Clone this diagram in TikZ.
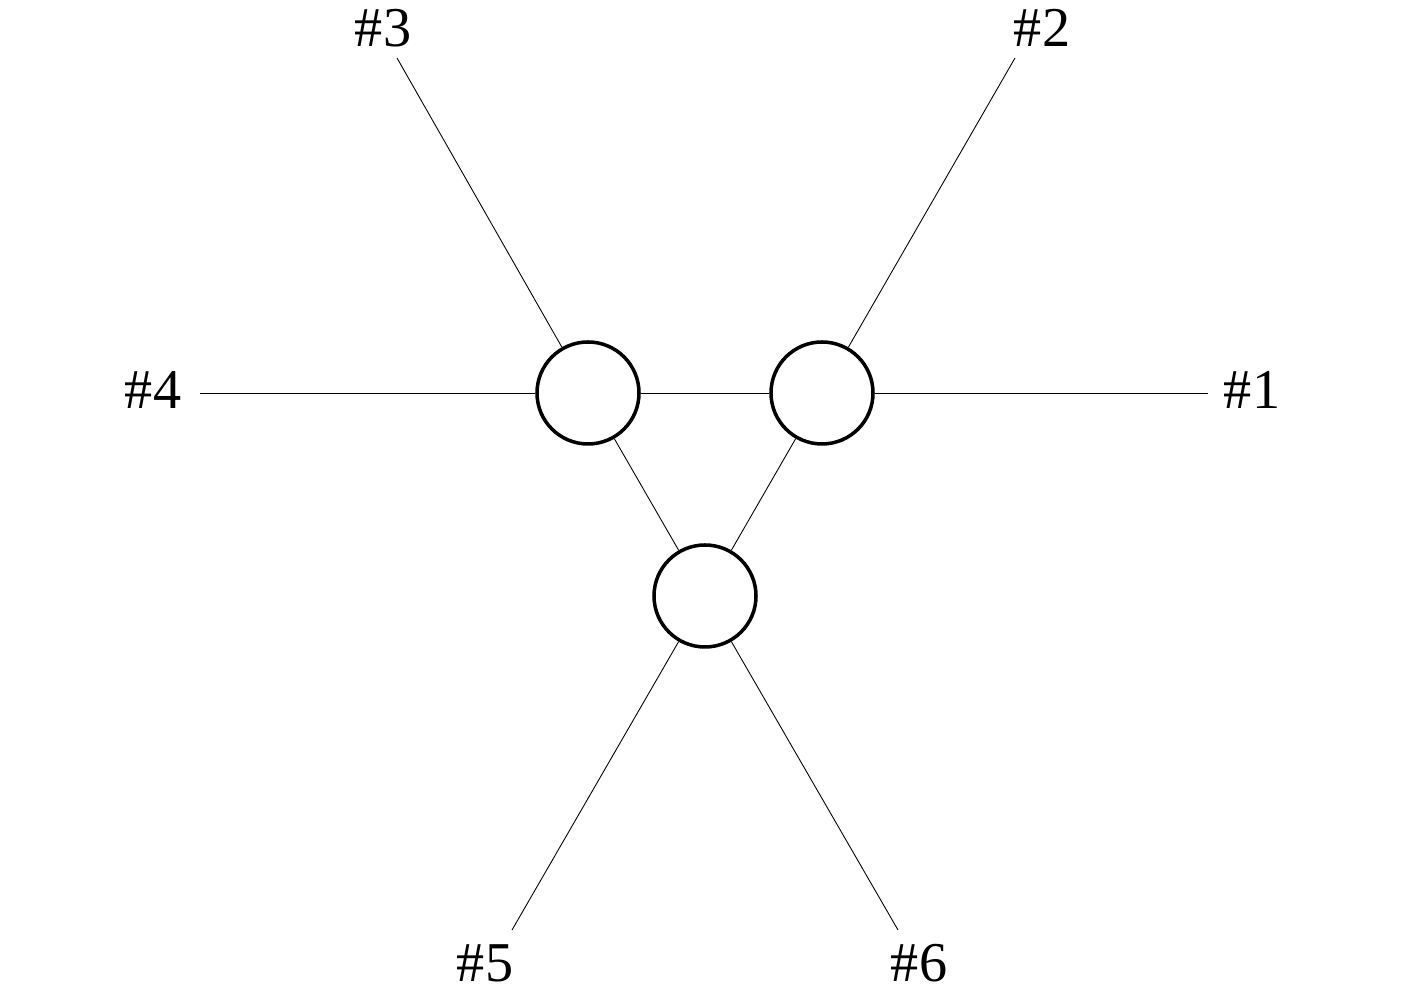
\documentclass[tikz,border=0pt]{standalone}
\usepackage{fontspec}
\setmainfont{Liberation Serif}
\begin{document}
\begin{tikzpicture}[
  hub/.style={circle,draw,line width=2pt,minimum size=2.04cm,inner sep=0pt,fill=white},
  wire/.style={line width=0.5pt},
  lbl/.style={font=\fontsize{32}{38}\selectfont,inner sep=0pt}
]
\useasboundingbox (0,0) rectangle (28.34,19.84);
\node[hub] (L) at (11.76,11.98) {};
\node[hub] (R) at (16.44,11.98) {};
\node[hub] (B) at (14.10,7.92) {};
\coordinate (c1) at (24.16,11.98);
\coordinate (c2) at (20.30,18.68);
\coordinate (c3) at (7.94,18.68);
\coordinate (c4) at (4.00,11.98);
\coordinate (c5) at (10.24,1.24);
\coordinate (c6) at (17.96,1.24);
\node[lbl] (t1) at (25.04,12.04) {\#1};
\node[lbl] (t2) at (20.84,19.28) {\#2};
\node[lbl] (t3) at (7.66,19.28) {\#3};
\node[lbl] (t4) at (3.06,12.04) {\#4};
\node[lbl] (t5) at (9.70,0.58) {\#5};
\node[lbl] (t6) at (18.38,0.58) {\#6};
\draw[wire] (L) -- (R);
\draw[wire] (L) -- (B);
\draw[wire] (R) -- (B);
\draw[wire] (c1) -- (R);
\draw[wire] (c2) -- (R);
\draw[wire] (c3) -- (L);
\draw[wire] (c4) -- (L);
\draw[wire] (c5) -- (B);
\draw[wire] (c6) -- (B);
\end{tikzpicture}
\end{document}
